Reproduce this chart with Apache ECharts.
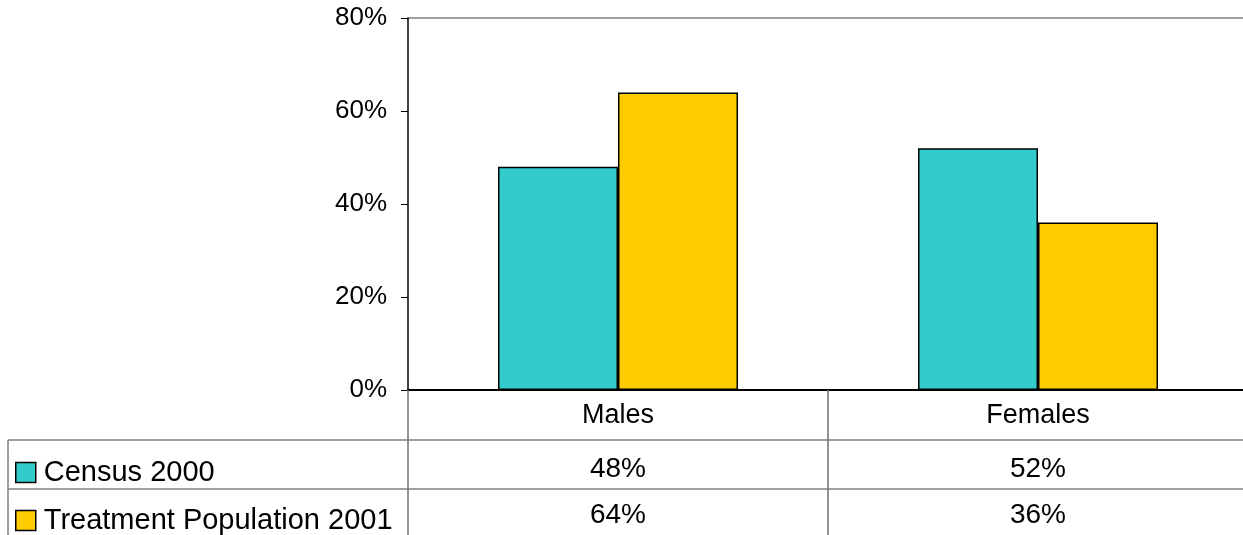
<!DOCTYPE html>
<html>
<head>
<meta charset="utf-8">
<script src="https://cdn.jsdelivr.net/npm/echarts@6/dist/echarts.min.js"></script>
<style>
  html, body { margin: 0; padding: 0; background: #fff; }
  #chart { width: 1243px; height: 535px; }
</style>
</head>
<body>
<div id="chart"></div>
<script>
// Gender split: census baseline vs. treatment population
const categories = ['Males', 'Females'];
const seriesNames = ['Census 2000', 'Treatment Population 2001'];
const census2000 = [0.48, 0.52];
const treatment2001 = [0.64, 0.36];
const yMin = 0, yMax = 0.8, yStep = 0.2;
const seriesColors = ['#33CCCC', '#FFCC00'];

const FONT = '"Liberation Sans", Arial, sans-serif';
const pct = v => Math.round(v * 100) + '%';

const chart = echarts.init(document.getElementById('chart'), null, { renderer: 'canvas' });

const gridLeft = 408, gridTop = 18, gridHeight = 372, gridWidth = 840;
const tickCount = Math.round((yMax - yMin) / yStep) + 1;
// only the top gridline is visible
const splitColors = Array.from({ length: tickCount }, (_, i) => i === tickCount - 1 ? '#808080' : 'rgba(0,0,0,0)');

// one legend per table row, each sitting in its row's label cell
const legendRowTops = [458, 506];
const legends = seriesNames.map((name, i) => ({
  orient: 'horizontal',
  left: 15,
  top: legendRowTops[i],
  itemWidth: 20,
  itemHeight: 20,
  icon: 'rect',
  selectedMode: false,
  padding: 0,
  textStyle: { fontSize: 29, color: '#000', fontFamily: FONT, padding: [0, 0, 0, 3] },
  itemStyle: { borderColor: '#000', borderWidth: 1.5 },
  data: [name]
}));

chart.setOption({
  animation: false,
  backgroundColor: '#ffffff',
  textStyle: { fontFamily: FONT },
  grid: {
    left: gridLeft, top: gridTop, width: gridWidth, height: gridHeight,
    containLabel: false, outerBoundsMode: 'none'
  },
  legend: legends,
  xAxis: {
    type: 'category',
    data: categories,
    axisLine: { show: true, lineStyle: { color: '#000', width: 2 } },
    axisTick: { show: true, alignWithLabel: false, length: 150, lineStyle: { color: '#707070', width: 1.5 } },
    axisLabel: { fontSize: 27, color: '#000', margin: 12, fontFamily: FONT },
    splitLine: { show: false }
  },
  yAxis: {
    type: 'value',
    min: yMin,
    max: yMax,
    interval: yStep,
    axisLine: { show: true, lineStyle: { color: '#000', width: 1.5 } },
    axisTick: { show: true, inside: false, length: 7, lineStyle: { color: '#000', width: 1 } },
    axisLabel: { fontSize: 26, color: '#000', margin: 21, fontFamily: FONT, formatter: v => pct(v) },
    splitLine: { show: true, lineStyle: { color: splitColors, width: 1.5 } }
  },
  series: [
    {
      name: seriesNames[0],
      type: 'bar',
      data: census2000,
      barWidth: 120,
      barGap: '0%',
      itemStyle: { color: seriesColors[0], borderColor: '#000', borderWidth: 1.5 }
    },
    {
      name: seriesNames[1],
      type: 'bar',
      data: treatment2001,
      barWidth: 120,
      barGap: '0%',
      itemStyle: { color: seriesColors[1], borderColor: '#000', borderWidth: 1.5 }
    }
  ]
});

// Data table beneath the plot: grid lines plus value cells
const tableRows = [
  { values: census2000, y: 469 },
  { values: treatment2001, y: 515 }
];
const tableLineColor = '#808080';
const graphics = [
  { type: 'line', shape: { x1: 8, y1: 440, x2: 1243, y2: 440 }, style: { stroke: tableLineColor, lineWidth: 1.5 } },
  { type: 'line', shape: { x1: 8, y1: 489, x2: 1243, y2: 489 }, style: { stroke: tableLineColor, lineWidth: 1.5 } },
  { type: 'line', shape: { x1: 8, y1: 440, x2: 8, y2: 535 }, style: { stroke: tableLineColor, lineWidth: 1.5 } }
];
tableRows.forEach(row => {
  categories.forEach((cat, i) => {
    const cx = chart.convertToPixel({ xAxisIndex: 0 }, cat);
    graphics.push({
      type: 'text',
      x: cx,
      y: row.y,
      style: {
        text: pct(row.values[i]),
        fontSize: 28,
        fontFamily: FONT,
        fill: '#000',
        align: 'center',
        verticalAlign: 'middle'
      }
    });
  });
});
chart.setOption({ graphic: graphics });
</script>
</body>
</html>
